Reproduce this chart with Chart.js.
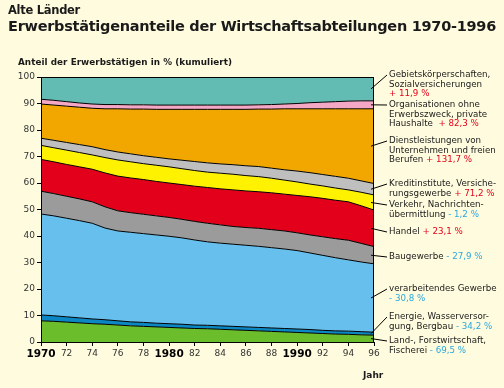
<!DOCTYPE html>
<html><head><meta charset="utf-8">
<script src="https://cdn.jsdelivr.net/npm/chart.js@4/dist/chart.umd.min.js"></script>
<style>
html,body{margin:0;padding:0;background:#FFFBDE;}
#wrap{position:relative;width:504px;height:388px;overflow:hidden;background:#FFFBDE;font-family:"DejaVu Sans",Verdana,sans-serif;color:#1a1a1a;}
canvas{position:absolute;left:0;top:0;}
.t{position:absolute;white-space:nowrap;line-height:1;}
#t1{left:8px;top:5px;font-size:11.5px;font-weight:bold;}
#t2{left:8px;top:19px;font-size:14.5px;font-weight:bold;}
#t3{left:18px;top:58px;font-size:8.8px;font-weight:bold;}
#t4{left:363px;top:371px;font-size:9px;font-weight:bold;}
.lab{position:absolute;white-space:nowrap;font-size:8.7px;line-height:9.6px;color:#1a1a1a;}
.pos{color:#E3001B;}
.neg{color:#2AA8DF;}
</style></head><body>
<div id="wrap">
<canvas id="c" width="504" height="388" style="width:504px;height:388px"></canvas>
<div class="t" id="t1" data-w="72">Alte Länder</div>
<div class="t" id="t2" data-w="488">Erwerbstätigenanteile der Wirtschaftsabteilungen 1970-1996</div>
<div class="t" id="t3" data-w="214">Anteil der Erwerbstätigen in % (kumuliert)</div>
<div class="t" id="t4">Jahr</div>
</div>
<script>
// ---- data (shares in % of all employed, stacked bottom to top) ----
const years = [1970,1971,1972,1973,1974,1975,1976,1977,1978,1979,1980,1981,1982,1983,1984,1985,1986,1987,1988,1989,1990,1991,1992,1993,1994,1995,1996];
const landwirtschaft = [8.0,7.8,7.5,7.2,6.9,6.7,6.4,6.1,5.9,5.7,5.5,5.3,5.1,5.0,4.8,4.6,4.4,4.2,4.0,3.8,3.6,3.4,3.2,3.0,2.9,2.7,2.6];
const energie = [2.2,2.1,2.0,1.9,1.8,1.7,1.6,1.5,1.5,1.4,1.4,1.4,1.3,1.3,1.3,1.3,1.3,1.3,1.3,1.3,1.3,1.3,1.2,1.2,1.2,1.2,1.1];
const verarbeitend = [38.1,37.7,37.2,36.7,36.1,34.6,33.9,33.8,33.5,33.3,33.0,32.6,32.1,31.5,31.2,31.0,30.8,30.6,30.3,30.0,29.6,28.9,28.3,27.6,26.9,26.3,25.8];
const baugewerbe = [8.6,8.4,8.3,8.2,8.1,8.0,7.6,7.4,7.3,7.2,7.1,7.0,7.0,7.0,6.9,6.7,6.7,6.8,6.8,6.8,6.7,6.8,7.0,7.2,7.4,7.0,6.5];
const handel = [12.0,12.0,12.0,12.1,12.3,12.8,13.1,13.1,13.1,13.0,13.0,13.1,13.3,13.5,13.6,13.8,13.8,13.8,13.9,13.9,14.1,14.4,14.5,14.5,14.5,14.2,13.8];
const verkehr = [5.3,5.3,5.4,5.4,5.4,5.8,6.1,6.1,6.0,6.1,6.1,6.0,5.9,5.8,5.9,5.9,5.8,5.7,5.5,5.3,5.1,4.8,4.7,4.6,4.5,5.1,5.7];
const kredit = [2.7,2.8,2.9,3.0,3.1,3.0,3.0,3.0,3.0,3.0,3.0,3.2,3.4,3.5,3.5,3.6,3.7,3.8,3.8,3.9,4.1,4.3,4.3,4.4,4.4,4.3,4.3];
const dienstleistungen = [12.9,13.3,13.7,14.1,14.5,15.4,16.3,16.9,17.6,18.1,18.7,19.2,19.7,20.2,20.6,20.9,21.3,21.7,22.3,23.0,23.5,24.1,24.8,25.5,26.2,27.2,28.2];
const organisationen = [1.8,1.8,1.7,1.6,1.6,1.6,1.6,1.6,1.6,1.6,1.6,1.6,1.6,1.6,1.6,1.6,1.6,1.6,1.7,1.8,2.0,2.3,2.5,2.7,2.9,3.0,3.0];
const gebiet = [8.4,8.8,9.3,9.8,10.2,10.4,10.4,10.5,10.5,10.6,10.6,10.6,10.6,10.6,10.6,10.6,10.6,10.5,10.4,10.2,10.0,9.7,9.5,9.3,9.1,9.0,9.0];

const sectorNames = ['Land-, Forstwirtschaft, Fischerei','Energie, Wasserversorgung, Bergbau','verarbeitendes Gewerbe','Baugewerbe','Handel','Verkehr, Nachrichtenübermittlung','Kreditinstitute, Versicherungsgewerbe','Dienstleistungen von Unternehmen und freien Berufen','Organisationen ohne Erwerbszweck, private Haushalte','Gebietskörperschaften, Sozialversicherungen'];
const changes1970to1996 = ['- 69,5 %','- 34,2 %','- 30,8 %','- 27,9 %','+ 23,1 %','- 1,2 %','+ 71,2 %','+ 131,7 %','+ 82,3 %','+ 11,9 %'];
const yTicks = [0,10,20,30,40,50,60,70,80,90,100];
const xTickYears = [1970,1972,1974,1976,1978,1980,1982,1984,1986,1988,1990,1992,1994,1996];
const xTickLabels = ['1970','72','74','76','78','1980','82','84','86','88','1990','92','94','96'];

// ---- styling / layout ----
const colors = ['#6CBD2C','#0B87C3','#66BFEC','#9B9B9B','#E3001B','#FFF200','#BFBFBF','#F2A700','#F4A8C6','#62BCB4'];
const series = [landwirtschaft,energie,verarbeitend,baugewerbe,handel,verkehr,kredit,dienstleistungen,organisationen,gebiet];
const labelLayout = [
  {lines:['Land-, Forstwirtschaft,','Fischerei {c}'], x:389, y:341},
  {lines:['Energie, Wasserversor-','gung, Bergbau {c}'], x:389, y:317},
  {lines:['verarbeitendes Gewerbe','{c}'], x:389, y:289},
  {lines:['Baugewerbe {c}'], x:389, y:257},
  {lines:['Handel {c}'], x:389, y:232},
  {lines:['Verkehr, Nachrichten-','übermittlung {c}'], x:389, y:205},
  {lines:['Kreditinstitute, Versiche-','rungsgewerbe {c}'], x:389, y:184},
  {lines:['Dienstleistungen von','Unternehmen und freien','Berufen {c}'], x:389, y:141},
  {lines:['Organisationen ohne','Erwerbszweck, private','Haushalte&nbsp;&nbsp;{c}'], x:389, y:105},
  {lines:['Gebietskörperschaften,','Sozialversicherungen','{c}'], x:389, y:75}
];

const wrap = document.getElementById('wrap');
labelLayout.forEach((L,i)=>{
  const d = document.createElement('div');
  d.className='lab';
  const ch = changes1970to1996[i];
  const cls = ch.trim().startsWith('+') ? 'pos' : 'neg';
  d.innerHTML = L.lines.map(s=>s.replace('{c}','<span class="'+cls+'">'+ch+'</span>')).join('<br>');
  d.style.left = L.x+'px';
  d.style.top = (L.y-4.8)+'px';
  wrap.appendChild(d);
});
// fit title widths with letter-spacing
document.querySelectorAll('[data-w]').forEach(el=>{
  const target = +el.dataset.w;
  const w = el.getBoundingClientRect().width;
  const n = el.textContent.length;
  el.style.letterSpacing = ((target - w)/n)+'px';
});

const tickMap = {};
xTickYears.forEach((y,i)=>tickMap[y]=xTickLabels[i]);

const datasets = series.map((s,i)=>({
  label: sectorNames[i],
  data: years.map((y,j)=>({x:y,y:s[j]})),
  backgroundColor: colors[i],
  borderColor:'#000',
  borderWidth:1,
  pointRadius:0,
  tension:0,
  fill: i===0 ? 'origin' : '-1'
}));

const framePlugin = {
  id:'frame',
  afterDatasetsDraw(chart){
    const {ctx, chartArea:a, scales} = chart;
    ctx.save();
    ctx.strokeStyle='#000'; ctx.lineWidth=1;
    ctx.strokeRect(a.left+0.5,a.top+0.5,a.right-a.left-1,a.bottom-a.top);
    const last = years.length-1;
    let cum = 0;
    series.forEach((s,i)=>{
      const mid = cum + s[last]/2; cum += s[last];
      const y0 = scales.y.getPixelForValue(mid);
      const L = labelLayout[i];
      ctx.beginPath();
      ctx.moveTo(a.right-3, y0);
      ctx.lineTo(L.x-2, L.y);
      ctx.stroke();
    });
    ctx.restore();
  }
};

new Chart(document.getElementById('c'),{
  type:'line',
  data:{datasets},
  options:{
    responsive:false,
    animation:false,
    devicePixelRatio:1,
    layout:{padding:{left:0,right:130,top:77,bottom:0}},
    plugins:{legend:{display:false},tooltip:{enabled:false}},
    scales:{
      x:{type:'linear',min:1970,max:1996,
        afterFit(s){s.height=46;},
        afterBuildTicks(s){s.ticks = xTickYears.map(v=>({value:v}));},
        grid:{drawOnChartArea:false,drawTicks:true,tickLength:4,color:'#000'},
        border:{display:true,color:'#000'},
        ticks:{autoSkip:false,maxRotation:0,padding:2,
          callback:v=>tickMap[v],
          color:ctx=>(ctx.tick && ctx.tick.value%10===0)?'#000':'#333',
          font:ctx=>(ctx.tick && ctx.tick.value%10===0)?{family:'DejaVu Sans',size:10.5,weight:'bold'}:{family:'DejaVu Sans',size:9}}
      },
      y:{stacked:true,min:0,max:100,
        afterFit(s){s.width=41;},
        afterBuildTicks(s){s.ticks = yTicks.map(v=>({value:v}));},
        grid:{drawOnChartArea:false,drawTicks:true,tickLength:4,color:'#000'},
        border:{display:true,color:'#000'},
        ticks:{color:'#333',padding:2,font:{family:'DejaVu Sans',size:9}}
      }
    }
  },
  plugins:[framePlugin]
});
</script>
</body></html>
